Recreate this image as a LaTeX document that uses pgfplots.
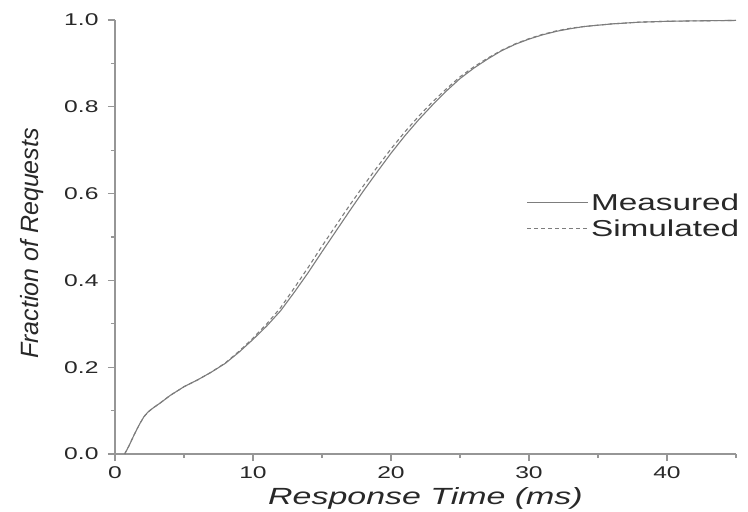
\documentclass[border=0pt]{standalone}
\usepackage{fontspec}
\setmainfont{Liberation Sans}[FakeStretch=1.45]
\newfontfamily\ylabfont{Liberation Sans}
\usepackage{pgfplots}
\pgfplotsset{compat=1.18}
\definecolor{axgray}{RGB}{150,150,150}
\definecolor{curvegray}{RGB}{125,125,125}
\definecolor{txtgray}{RGB}{40,40,40}
\begin{document}
\begin{tikzpicture}
\path[use as bounding box] (-115pt,-58pt) rectangle (633pt,454pt);
\begin{axis}[
  at={(0pt,0pt)}, anchor=south west,
  scale only axis, width=621pt, height=434pt,
  xmin=0, xmax=45, ymin=0, ymax=1.0,
  axis lines*=left,
  axis line style={axgray, line width=1.6pt},
  every tick/.style={axgray, line width=1.2pt},
  tick align=outside,
  major tick length=7pt, minor tick length=4pt,
  xtick={0,10,20,30,40}, minor xtick={5,15,25,35,45},
  ytick={0,0.2,0.4,0.6,0.8,1.0}, minor ytick={0.1,0.3,0.5,0.7,0.9},
  /pgf/number format/assume math mode=true,
  yticklabel style={/pgf/number format/fixed, /pgf/number format/fixed zerofill, /pgf/number format/precision=1},
  tick label style={font=\fontsize{17}{19}\selectfont, text=txtgray},
  xticklabel style={anchor=north, yshift=-2pt},
  yticklabel style={anchor=east, xshift=-6pt},
  xlabel={\itshape Response Time (ms)},
  ylabel={\ylabfont\itshape Fraction of Requests},
  xlabel style={font=\fontsize{23.4}{26}\selectfont, text=txtgray, at={(axis description cs:0.5,0)}, anchor=base, yshift=-50pt},
  ylabel style={font=\fontsize{25}{28}\selectfont, text=txtgray, at={(axis description cs:0,0.485)}, anchor=base, yshift=76pt},
  legend style={draw=none, fill=none, at={(axis description cs:0.663,0.605)}, anchor=north west,
    font=\fontsize{23}{27}\selectfont, text=txtgray, row sep=4pt, inner sep=0pt},
  legend cell align=left,
  legend image code/.code={\draw[#1] (0pt,0pt) -- (52pt,0pt); \path (0pt,0pt) -- (61pt,0pt);},
  clip=false,
]
\addplot[curvegray, line width=1.1pt] coordinates {
(0.7,0) (1.0,0.018) (1.4,0.045) (1.8,0.07) (2.1,0.086) (2.4,0.097) (2.8,0.107) (3.3,0.118) (4,0.135)
(5,0.155) (6,0.171) (7,0.189) (8,0.209) (9,0.235) (10,0.264) (11,0.295)
(12,0.330) (13,0.373) (14,0.418) (15,0.466) (16,0.513) (17,0.560) (18,0.606)
(19,0.650) (20,0.693) (21,0.733) (22,0.770) (23,0.804) (24,0.836) (25,0.865)
(26,0.889) (27,0.910) (28,0.929) (29,0.944) (30,0.956) (31,0.966) (32,0.974)
(33,0.980) (34,0.985) (35,0.988) (36,0.991) (37,0.993) (38,0.995) (40,0.997)
(42,0.998) (45,0.999)
};
\addlegendentry{Measured}
\addplot[curvegray, line width=1.1pt, dash pattern=on 4pt off 3pt] coordinates {
(0.7,0) (1.0,0.018) (1.4,0.045) (1.8,0.07) (2.1,0.086) (2.4,0.097) (2.8,0.107) (3.3,0.118) (4,0.135)
(5,0.155) (6,0.171) (7,0.189) (8,0.210) (9,0.237) (10,0.267) (11,0.300)
(12,0.337) (13,0.383) (14,0.430) (15,0.479) (16,0.526) (17,0.573) (18,0.618)
(19,0.661) (20,0.703) (21,0.742) (22,0.778) (23,0.811) (24,0.841) (25,0.869)
(26,0.892) (27,0.912) (28,0.930) (29,0.945) (30,0.957) (31,0.967) (32,0.975)
(33,0.981) (34,0.985) (35,0.988) (36,0.991) (37,0.993) (38,0.995) (40,0.997)
(42,0.998) (45,0.999)
};
\addlegendentry{Simulated}
\end{axis}
\end{tikzpicture}
\end{document}
